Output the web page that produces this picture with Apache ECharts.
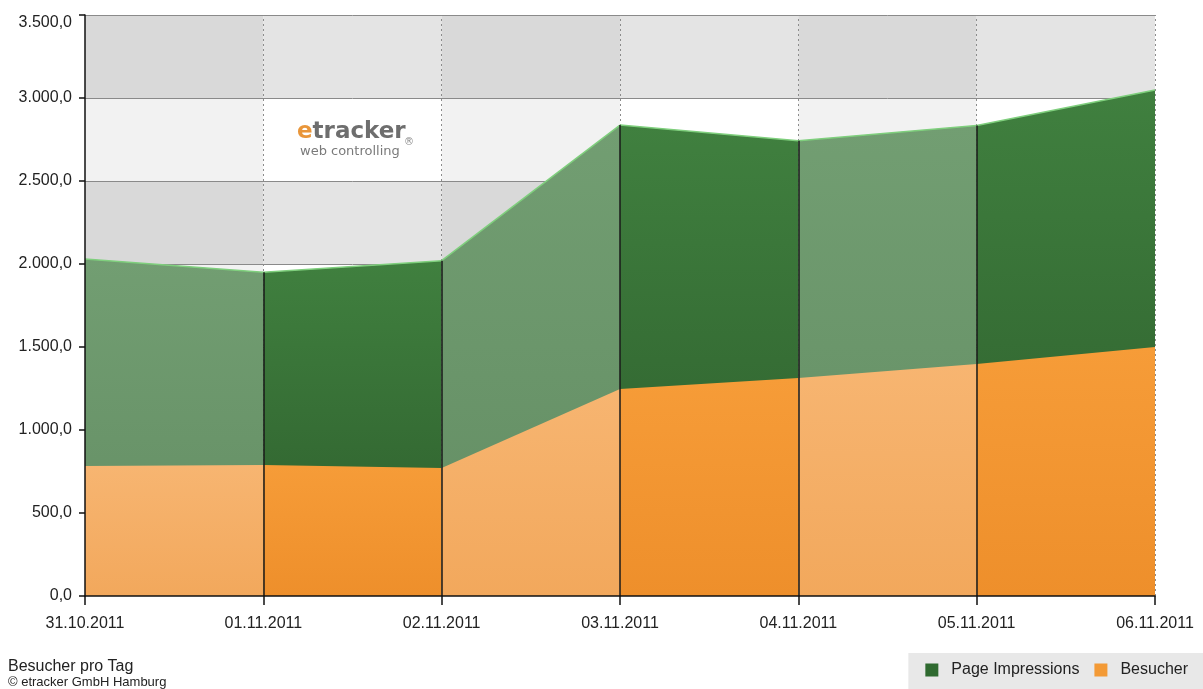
<!DOCTYPE html>
<html>
<head>
<meta charset="utf-8">
<script src="https://cdn.jsdelivr.net/npm/echarts@6/dist/echarts.min.js"></script>
<style>
html, body { margin: 0; padding: 0; background: #fff; }
#chart { width: 1203px; height: 689px; }
</style>
</head>
<body>
<div id="chart"></div>
<script>
var dates = ['31.10.2011', '01.11.2011', '02.11.2011', '03.11.2011', '04.11.2011', '05.11.2011', '06.11.2011'];
var pageImpressions = [2030, 1950, 2020, 2837, 2743, 2835, 3048];
var besucher = [783, 789, 771, 1247, 1313, 1398, 1500];
var yTicks = [0, 500, 1000, 1500, 2000, 2500, 3000, 3500];

var chart = echarts.init(document.getElementById('chart'));
var font = 'Arial, "Liberation Sans", sans-serif';

function fmt(v) {
  var s = v >= 1000 ? Math.floor(v / 1000) + '.' + String(v % 1000).padStart(3, '0') : String(v);
  s = s + ',0';
  // top label sits a bit lower in the original so it is not cut off
  return v === 3500 ? '{top|' + s + '}' : s;
}

function grad(top, bottom) {
  return new echarts.graphic.LinearGradient(0, 0, 0, 1, [
    { offset: 0, color: top },
    { offset: 1, color: bottom }
  ]);
}

// keep only the two points of segment i
function segment(values, i) {
  return values.map(function (v, j) { return (j === i || j === i + 1) ? v : '-'; });
}

// background cells: rows alternate gray / light, columns alternate darker / lighter
var cells = [];
for (var r = 0; r < yTicks.length - 1; r++) {
  for (var c = 0; c < dates.length - 1; c++) {
    var grayRow = r % 2 === 0;
    var darkCol = c % 2 === 0;
    var col = grayRow ? (darkCol ? '#d9d9d9' : '#e4e4e4') : (darkCol ? '#f2f2f2' : '#ffffff');
    cells.push([
      { xAxis: dates[c], yAxis: yTicks[r], itemStyle: { color: col } },
      { xAxis: dates[c + 1], yAxis: yTicks[r + 1] }
    ]);
  }
}

var gridLines = [];
yTicks.slice(1).forEach(function (t) {
  gridLines.push({ yAxis: t, lineStyle: { color: '#8a8a8a', width: 1, type: 'solid' } });
});
dates.slice(1).forEach(function (d) {
  gridLines.push({ xAxis: d, lineStyle: { color: '#8c8c8c', width: 1, type: [2, 3] } });
});

var dayLines = [];
for (var i = 1; i < dates.length - 1; i++) {
  dayLines.push([{ coord: [dates[i], 0] }, { coord: [dates[i], pageImpressions[i]] }]);
}

var empty = dates.map(function () { return '-'; });
var series = [
  {
    type: 'line', data: empty, silent: true,
    markArea: { z: 1, silent: true, data: cells, itemStyle: { borderWidth: 0 } }
  },
  {
    type: 'line', data: empty, silent: true,
    markLine: { z: 2, silent: true, symbol: 'none', label: { show: false }, data: gridLines }
  }
];

for (var s = 0; s < dates.length - 1; s++) {
  var dark = s % 2 === 1;
  series.push({
    name: 'Page Impressions',
    type: 'line',
    z: 3,
    data: segment(pageImpressions, s),
    showSymbol: false,
    lineStyle: { color: '#7fcf7d', width: 1.5 },
    itemStyle: { color: '#2f6a30' },
    areaStyle: { opacity: 1, color: dark ? grad('#40803f', '#2c5c2b') : grad('#729e72', '#638d63') }
  });
}
for (var s2 = 0; s2 < dates.length - 1; s2++) {
  var dark2 = s2 % 2 === 1;
  series.push({
    name: 'Besucher',
    type: 'line',
    z: 4,
    data: segment(besucher, s2),
    showSymbol: false,
    lineStyle: { width: 0 },
    itemStyle: { color: '#f39a36' },
    areaStyle: { opacity: 1, color: dark2 ? grad('#f69c38', '#ee8f2b') : grad('#f7b571', '#f2a85c') }
  });
}
series.push({
  type: 'line', data: empty, silent: true,
  markLine: {
    z: 5, silent: true, symbol: 'none', label: { show: false },
    lineStyle: { color: '#1a1a1a', width: 1.5, type: 'solid' },
    data: dayLines
  }
});

chart.setOption({
  animation: false,
  grid: { left: 85, right: 48, top: 15, bottom: 93 },
  xAxis: {
    type: 'category',
    z: 6,
    data: dates,
    boundaryGap: false,
    axisLine: { lineStyle: { color: '#111', width: 1.5 } },
    axisTick: { show: true, length: 9, lineStyle: { color: '#111', width: 1.5 } },
    axisLabel: { color: '#222', fontFamily: font, fontSize: 16, margin: 20, showMaxLabel: true, showMinLabel: true },
    splitLine: { show: false }
  },
  yAxis: {
    type: 'value',
    z: 6,
    min: 0, max: 3500, interval: 500,
    axisLine: { show: true, lineStyle: { color: '#111', width: 1.5 } },
    axisTick: { show: true, length: 6, lineStyle: { color: '#111', width: 1.5 } },
    axisLabel: {
      color: '#222', fontFamily: font, fontSize: 16, margin: 13, formatter: fmt,
      rich: { top: { fontFamily: font, fontSize: 16, color: '#222', padding: [16, 0, 0, 0] } }
    },
    splitLine: { show: false }
  },
  legend: {
    right: 0, bottom: 0,
    backgroundColor: '#e8e8e8',
    padding: [9, 15, 11, 17],
    icon: 'rect', itemWidth: 13, itemHeight: 13, itemGap: 15,
    textStyle: { color: '#222', fontFamily: font, fontSize: 16, padding: [0, 0, 0, 8] },
    data: [
      { name: 'Page Impressions', itemStyle: { color: '#2f6a30' } },
      { name: 'Besucher', itemStyle: { color: '#f39a36' } }
    ]
  },
  graphic: [
    { type: 'text', left: 8, top: 659, style: { text: 'Besucher pro Tag', fill: '#222', font: '16px ' + font } },
    { type: 'text', left: 8, top: 676, style: { text: '\u00a9 etracker GmbH Hamburg', fill: '#222', font: '13px ' + font } },
    {
      type: 'text', left: 297, top: 121, z: 10,
      style: {
        text: '{e|e}{t|tracker}',
        rich: {
          e: { fill: '#e9963a', font: 'bold 23px "DejaVu Sans", sans-serif' },
          t: { fill: '#6e6e6e', font: 'bold 23px "DejaVu Sans", sans-serif' }
        }
      }
    },
    { type: 'text', left: 300, top: 145, z: 10, style: { text: 'web controlling', fill: '#7a7a7a', font: '13px "DejaVu Sans", sans-serif' } },
    { type: 'text', left: 404, top: 137, z: 10, style: { text: '\u00ae', fill: '#8a8a8a', font: '10px "DejaVu Sans", sans-serif' } }
  ],
  series: series
});
</script>
</body>
</html>
